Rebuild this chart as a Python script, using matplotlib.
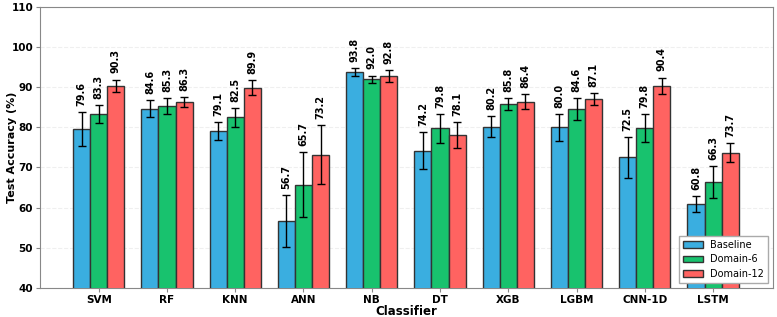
import matplotlib
matplotlib.use("Agg")
import matplotlib.pyplot as plt
import numpy as np

classifiers = ["SVM", "RF", "KNN", "ANN", "NB", "DT", "XGB", "LGBM", "CNN-1D", "LSTM"]
baseline = [79.6, 84.6, 79.1, 56.7, 93.8, 74.2, 80.2, 80.0, 72.5, 60.8]
domain6 = [83.3, 85.3, 82.5, 65.7, 92.0, 79.8, 85.8, 84.6, 79.8, 66.3]
domain12 = [90.3, 86.3, 89.9, 73.2, 92.8, 78.1, 86.4, 87.1, 90.4, 73.7]
baseline_err = [4.2, 2.1, 2.3, 6.4, 0.9, 4.6, 2.5, 3.3, 5.2, 2.0]
domain6_err = [2.2, 1.9, 2.3, 8.1, 0.9, 3.6, 1.6, 2.75, 3.5, 4.0]
domain12_err = [1.6, 1.25, 1.9, 7.3, 1.5, 3.25, 1.8, 1.5, 2.0, 2.3]
series_names = ["Baseline", "Domain-6", "Domain-12"]
colors = ["#3AAEE0", "#18C26E", "#FF6361"]

fig = plt.figure(figsize=(7.77, 3.17), dpi=100)
ax = fig.add_axes([0.0515, 0.0915, 0.9435, 0.887])

x = np.arange(len(classifiers))
w = 0.25
series = [baseline, domain6, domain12]
errs = [baseline_err, domain6_err, domain12_err]
for i, (vals, err, name, c) in enumerate(zip(series, errs, series_names, colors)):
    pos = x + (i - 1) * w
    ax.bar(pos, vals, w, yerr=err, color=c, edgecolor="#333333", linewidth=1.0,
           label=name, capsize=3, error_kw=dict(elinewidth=1.0, ecolor="black", capthick=1.0),
           zorder=3)
    for p, v, e in zip(pos, vals, err):
        ax.text(p, v + e + 1.5, f"{v:.1f}", rotation=90, ha="center", va="bottom",
                fontsize=7, fontweight="bold", zorder=4)

ax.set_ylim(40, 110)
ax.set_xlim(-0.86, 9.88)
ax.set_xticks(x)
ax.set_xticklabels(classifiers, fontweight="bold", fontsize=7.5)
ax.set_yticks(np.arange(40, 111, 10))
for lab in ax.get_yticklabels():
    lab.set_fontweight("bold")
    lab.set_fontsize(7.5)
ax.set_xlabel("Classifier", fontweight="bold", fontsize=8.5, labelpad=0)
ax.set_ylabel("Test Accuracy (%)", fontweight="bold", fontsize=8)
ax.yaxis.set_label_coords(-0.031, 0.5)
ax.grid(axis="y", linestyle="--", alpha=0.2, zorder=0)
for s in ax.spines.values():
    s.set_color("#888888")
ax.tick_params(length=3, pad=2, color="#888888")
ax.legend(loc="lower right", fontsize=7, framealpha=1, edgecolor="#aaaaaa",
          fancybox=False, handlelength=2.0)
fig.savefig("out.png", dpi=100)
